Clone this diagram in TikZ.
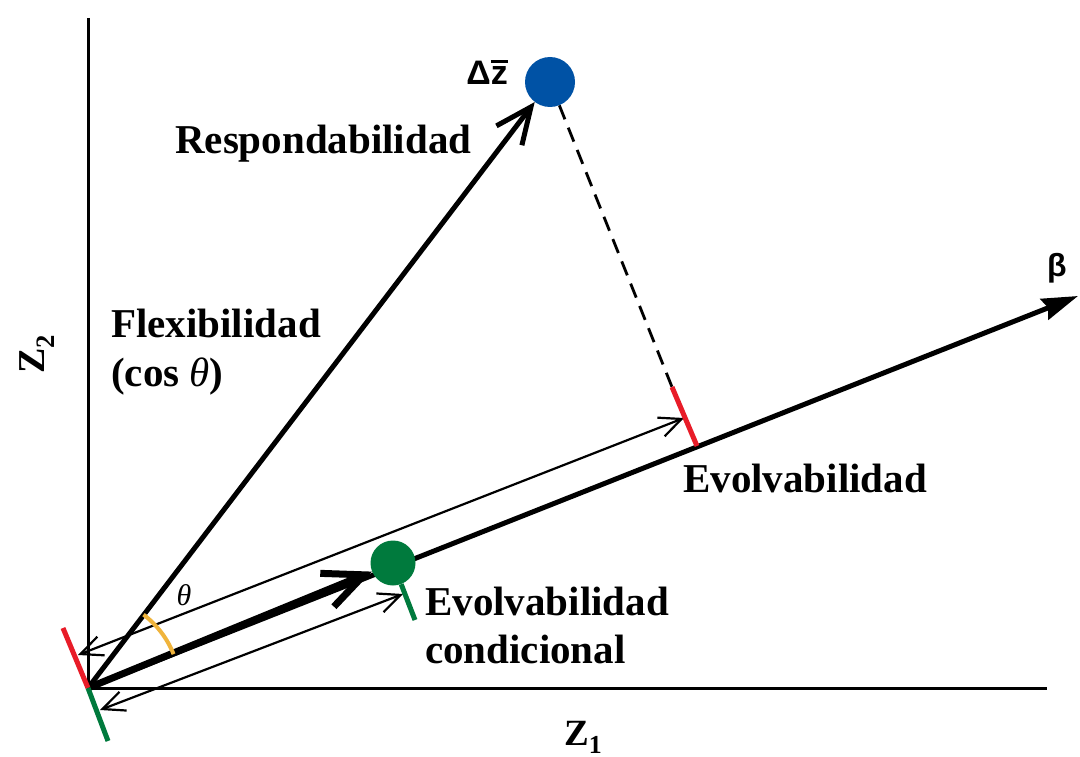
\documentclass[tikz,border=0pt]{standalone}
\usepackage{fontspec}
\setmainfont{Liberation Serif}
\newfontfamily\lsans{Liberation Sans}
\usetikzlibrary{arrows.meta}
\definecolor{dzblue}{RGB}{0,82,165}
\definecolor{cgreen}{RGB}{0,122,61}
\definecolor{tred}{RGB}{232,28,40}
\definecolor{aorange}{RGB}{240,180,60}
\tikzset{
  axisline/.style={line width=3pt},
  vecline/.style={line width=5pt},
  thinarr/.style={line width=2.2pt, {Straight Barb[length=22pt,width=20pt]}-{Straight Barb[length=22pt,width=20pt]}},
  lbl/.style={font=\fontsize{41}{48}\selectfont\bfseries, inner sep=0pt},
  tick/.style={line width=5pt},
  dot/.style={circle, inner sep=0pt},
}
\begin{document}
\begin{tikzpicture}[x=1pt,y=-1pt]
\useasboundingbox (0,0) rectangle (1080,757);
\fill[white] (0,0) rectangle (1080,757);
% coordinates
\coordinate (O) at (88,688);
\coordinate (Ytop) at (88,18);
\coordinate (Xend) at (1047,688);
\coordinate (B) at (1078,296);
\coordinate (P) at (697,446);
\coordinate (Rt) at (672,387);
\coordinate (Gs) at (415,620);
\coordinate (Ro) at (63,628);
\coordinate (Go) at (108,741);
\coordinate (U1) at (78,655);
\coordinate (U2) at (684,418);
\coordinate (L1) at (100,710);
\coordinate (L2) at (403,594);
% axes
\draw[axisline] (Ytop) -- (O) -- (Xend);
% thin measurement arrows
\draw[thinarr] (U1) -- (U2);
\draw[thinarr] (L1) -- (L2);
% beta
\draw[line width=5pt, -{Stealth[length=36pt,width=22pt,inset=4pt]}] (O) -- (B);
% circles
\node[dot, fill=dzblue, minimum size=50pt] (dz) at (550,82) {};
\node[dot, fill=cgreen, minimum size=45pt] (g) at (393,563) {};
% response vector
\draw[vecline, -{Straight Barb[length=36pt,width=32pt]}] (O) -- (dz);
% conditional evolvability vector
\draw[line width=7pt, -{Straight Barb[length=40pt,width=36pt]}] (O) -- (g);
% projection
\draw[line width=2.8pt, dash pattern=on 15pt off 9pt] (dz) -- (Rt);
\draw[tick, tred] (Rt) -- (P);
\draw[tick, tred] (Ro) -- (O);
\draw[tick, cgreen] (O) -- (Go);
\draw[tick, cgreen] (g) -- (Gs);
% angle
\draw[aorange, line width=4pt] (O) ++(-21.6:92) arc[start angle=-21.6, end angle=-52.9, radius=92];
% labels
\node[lbl, anchor=base west] (resp) at (175,154) {Respondabilidad};
\node[lbl, anchor=base west] (flex) at (111,337) {Flexibilidad};
\node[lbl, anchor=base west] (cos) at (111,386) {(cos {\mdseries\itshape θ})};
\node[lbl, anchor=base west] (evo) at (683,492) {Evolvabilidad};
\node[lbl, anchor=base west] (evc1) at (425,615) {Evolvabilidad};
\node[lbl, anchor=base west] (evc2) at (425,663) {condicional};
\node[font=\fontsize{30}{34}\selectfont\itshape, inner sep=0pt, anchor=base] (th) at (184,605) {θ};
\node[font=\fontsize{32}{38}\selectfont\lsans\bfseries, inner sep=0pt] (beta) at (1057,268) {β};
\node[font=\fontsize{34}{40}\selectfont\lsans\bfseries, inner sep=0pt, anchor=base east] (dzl) at (508,85) {Δ\ooalign{z\cr\hidewidth\rule[0.64em]{0.5em}{0.09em}\hidewidth\cr}};
\node[font=\fontsize{38}{44}\selectfont\bfseries, inner sep=0pt, anchor=base west, rotate=90] (z2) at (45,374) {Z\textsubscript{2}};
\node[font=\fontsize{37}{42}\selectfont\bfseries, inner sep=0pt, anchor=base west] (z1) at (564,745) {Z\textsubscript{1}};
\end{tikzpicture}
\end{document}
